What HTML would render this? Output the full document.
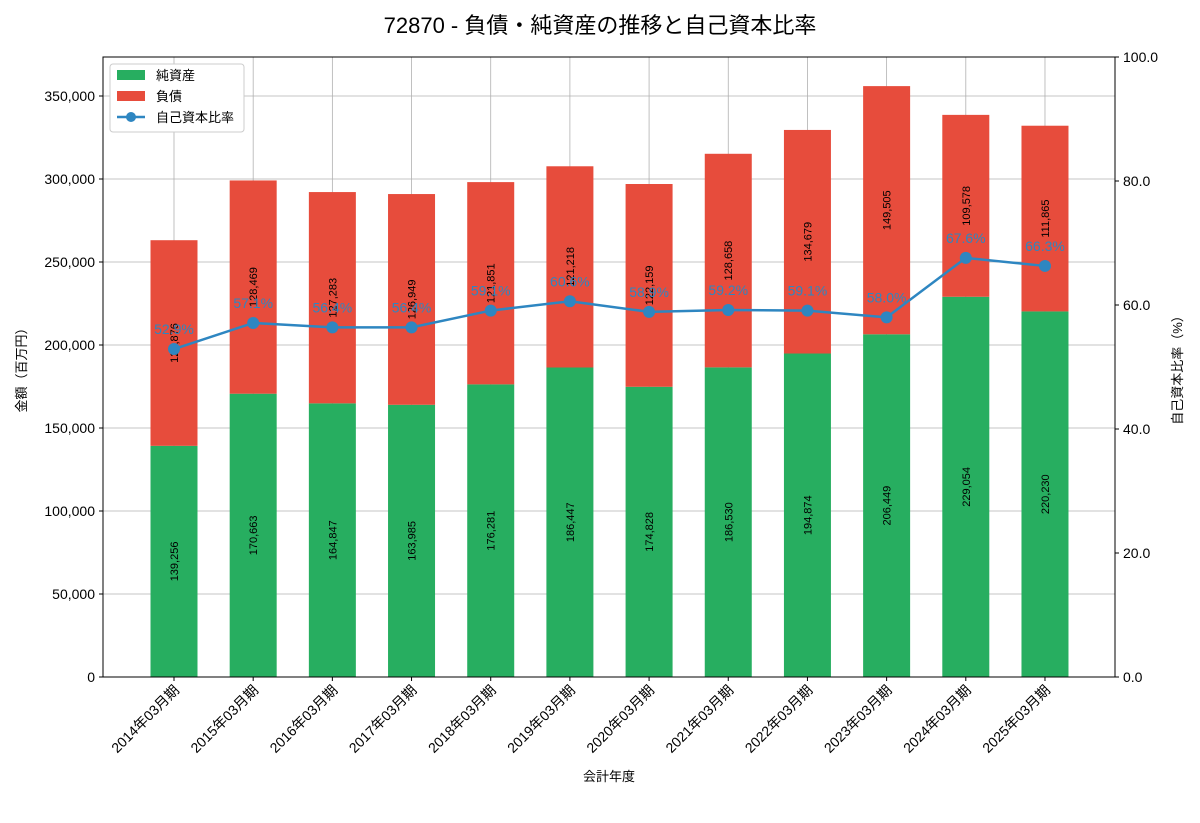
<!DOCTYPE html>
<html><head><meta charset="utf-8"><style>
body{margin:0;background:#fff;font-family:"Liberation Sans","Noto Sans CJK JP",sans-serif}
svg text{font-family:"Liberation Sans","Noto Sans CJK JP",sans-serif}
</style></head><body>
<svg id="c" width="1200" height="800" xmlns="http://www.w3.org/2000/svg"></svg>
<script>
const categories=["2014年03月期","2015年03月期","2016年03月期","2017年03月期","2018年03月期","2019年03月期","2020年03月期","2021年03月期","2022年03月期","2023年03月期","2024年03月期","2025年03月期"];
const netAssets=[139256,170663,164847,163985,176281,186447,174828,186530,194874,206449,229054,220230];
const liabilities=[123876,128469,127283,126949,121851,121218,122159,128658,134679,149505,109578,111865];
const ratios=[52.9,57.1,56.4,56.4,59.1,60.6,58.9,59.2,59.1,58.0,67.6,66.3];
const leftTicks=[0,50000,100000,150000,200000,250000,300000,350000];
const rightTicks=[0,20,40,60,80,100];
const svg=document.getElementById('c');const NS="http://www.w3.org/2000/svg";
const L=103,R=1115,T=57,B=677;
const yL=v=>B-v/373494*(B-T);const yR=v=>B-v/100*(B-T);const xC=i=>174+i*79.18;const bw=47;
function el(t,a,p){const e=document.createElementNS(NS,t);for(const k in a)e.setAttribute(k,a[k]);(p||svg).appendChild(e);return e;}
function tx(x,y,s,a){const e=el('text',Object.assign({x:x,y:y},a));e.textContent=s;return e;}
// grid
leftTicks.forEach(v=>{const g=el('line',{x1:L,x2:R,y1:yL(v),y2:yL(v),stroke:'#b0b0b0','stroke-width':0.8});


const t=tx(L-8,yL(v)+5,v.toLocaleString('en-US'),{'text-anchor':'end','font-size':14});

});
categories.forEach((c,i)=>{const g=el('line',{x1:xC(i),x2:xC(i),y1:T,y2:B,stroke:'#b0b0b0','stroke-width':0.8});

});
rightTicks.forEach(v=>{const t=tx(R+8,yR(v)+5,v.toFixed(1),{'font-size':14});


el('line',{x1:R,x2:R+4,y1:yR(v),y2:yR(v),stroke:'#000'});});
// bars
categories.forEach((c,i)=>{const x=xC(i);
const g=el('rect',{x:x-bw/2,y:yL(netAssets[i]),width:bw,height:B-yL(netAssets[i]),fill:'#27ae60'});


const r=el('rect',{x:x-bw/2,y:yL(netAssets[i]+liabilities[i]),width:bw,height:yL(netAssets[i])-yL(netAssets[i]+liabilities[i]),fill:'#e74c3c'});


const ym=yL(netAssets[i]/2);const t1=tx(x+4,ym,netAssets[i].toLocaleString('en-US'),{'text-anchor':'middle','font-size':11,transform:`rotate(-90 ${x+4} ${ym})`});


const ym2=yL(netAssets[i]+liabilities[i]/2);const t2=tx(x+4,ym2,liabilities[i].toLocaleString('en-US'),{'text-anchor':'middle','font-size':11,transform:`rotate(-90 ${x+4} ${ym2})`});


el('line',{x1:x,x2:x,y1:B,y2:B+4,stroke:'#000'});
const xl=tx(x+6,B+14,c,{'text-anchor':'end','font-size':14,transform:`rotate(-45 ${x+6} ${B+14})`});

});
// line
const pl=el('polyline',{points:ratios.map((v,i)=>xC(i)+','+yR(v)).join(' '),fill:'none',stroke:'#2e86c1','stroke-width':2.5});


ratios.forEach((v,i)=>{const d=el('circle',{cx:xC(i),cy:yR(v),r:6,fill:'#2e86c1'});


const t=tx(xC(i),yR(v)-15,v.toFixed(1)+'%',{'text-anchor':'middle','font-size':14,fill:'#2e86c1'});

});
// frame
const f=el('rect',{x:L,y:T,width:R-L,height:B-T,fill:'none',stroke:'#000','stroke-width':1});


leftTicks.forEach(v=>el('line',{x1:L-4,x2:L,y1:yL(v),y2:yL(v),stroke:'#000'}));
</script>
<svg width="0" height="0"></svg>
<script>
(function(){const svg=document.getElementById('c');const NS="http://www.w3.org/2000/svg";
function el(t,a){const e=document.createElementNS(NS,t);for(const k in a)e.setAttribute(k,a[k]);svg.appendChild(e);return e;}
function tx(x,y,s,a){const e=el('text',Object.assign({x:x,y:y},a));e.textContent=s;return e;}
const ti=tx(600,33,'72870 - 負債・純資産の推移と自己資本比率',{'text-anchor':'middle','font-size':22});


const xa=tx(609,781,'会計年度',{'text-anchor':'middle','font-size':13});


const ya=tx(26,367,'金額（百万円）',{'text-anchor':'middle','font-size':13,transform:'rotate(-90 26 367)'});


const yr=tx(1182,367,'自己資本比率（%）',{'text-anchor':'middle','font-size':13,transform:'rotate(-90 1182 367)'});


const lg=el('rect',{x:110,y:64,width:134,height:68,fill:'#fff',stroke:'#ccc',rx:3});


el('rect',{x:117,y:70,width:28,height:10,fill:'#27ae60'});
const a=tx(156,80,'純資産',{'font-size':13});
el('rect',{x:117,y:91,width:28,height:10,fill:'#e74c3c'});
const b=tx(156,101,'負債',{'font-size':13});
el('line',{x1:117,x2:145,y1:117,y2:117,stroke:'#2e86c1','stroke-width':2.5});
el('circle',{cx:131,cy:117,r:5,fill:'#2e86c1'});
const c=tx(156,122,'自己資本比率',{'font-size':13});
})();
</script>
</body></html>
